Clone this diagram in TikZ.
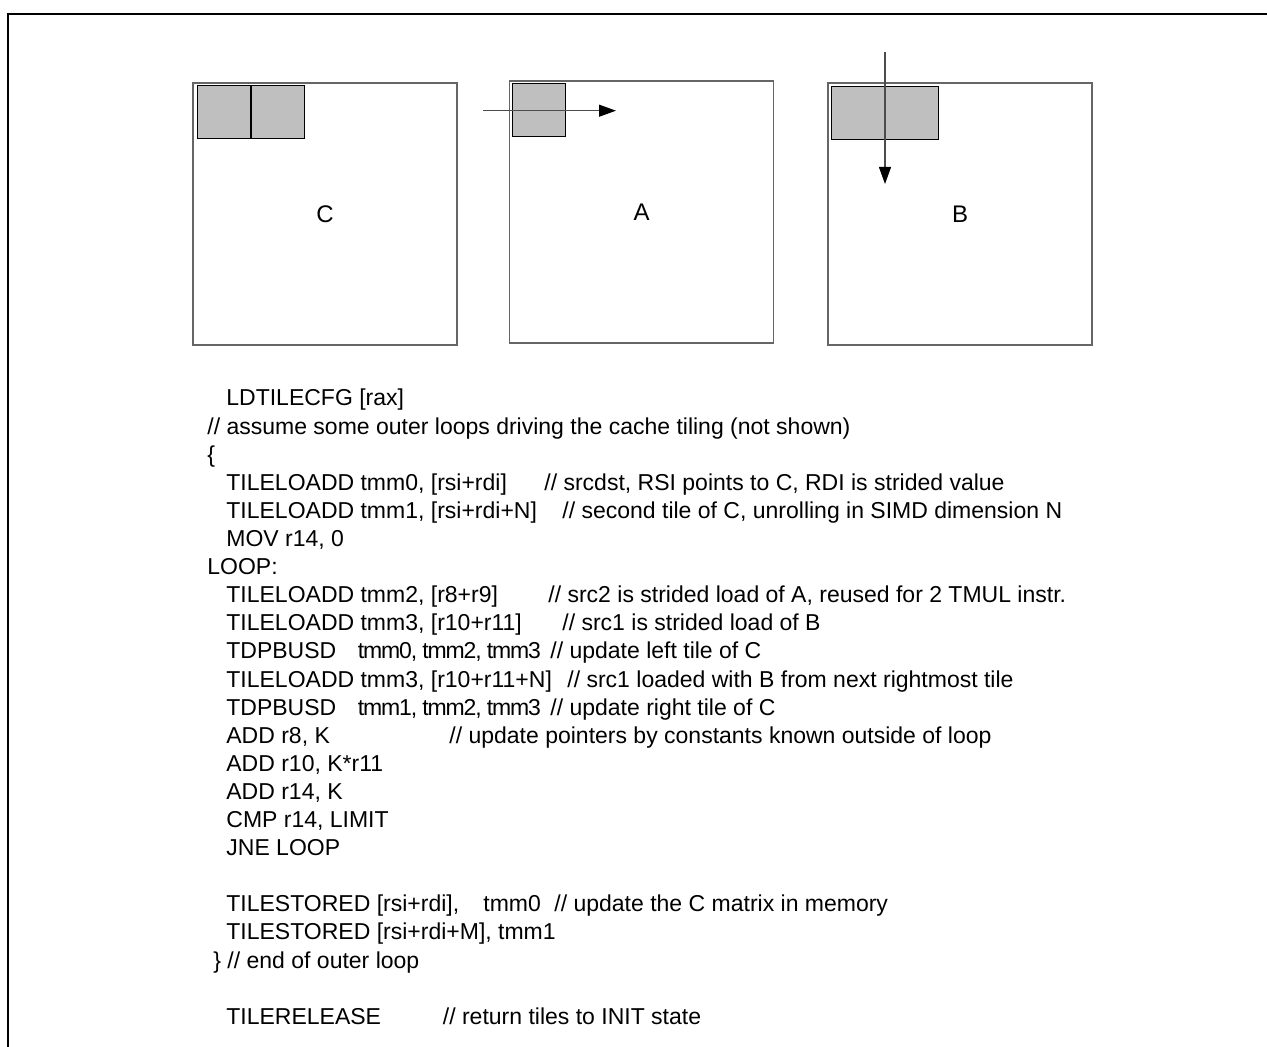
\documentclass[tikz,border=0pt]{standalone}
\usepackage{fontspec}
\setmainfont{Liberation Sans}
\usetikzlibrary{arrows.meta}

\begin{document}
\begin{tikzpicture}[
		x=0.5pt,
		y=-0.5pt,
		mbox/.style={draw=black!60, line width=0.6pt, inner sep=0pt, outer sep=0pt,
			minimum width=132pt, minimum height=131pt, font=\fontsize{12}{14}\selectfont},
		tile/.style={draw=black, fill=black!25, line width=0.5pt, inner sep=0pt, outer sep=0pt,
			minimum size=26.5pt},
		walk/.style={draw=black!70, line width=0.6pt, -{Triangle[length=8.5pt,width=6pt,black]}},
		code/.style={anchor=base west, inner sep=0pt, font=\fontsize{11.5}{13}\selectfont},
		tight/.style={code, font=\fontsize{11.5}{13}\selectfont\addfontfeature{LetterSpace=-5}}
	]
	\useasboundingbox (0,0) rectangle (1267,1047);
	\draw[line width=1pt] (1267,14) -- (8,14) -- (8,1047);

	\node[mbox] (C) at (325,214) {C};
	\node[mbox] (A) at (641.5,212) {A};
	\node[mbox] (B) at (960,214) {B};

	\node[tile] (c1) at (223.5,112.5) {};
	\node[tile] (c2) at (277.5,112.5) {};
	\node[tile] (a1) at (539,110.5) {};
	\node[tile] (b1) at (857.5,113) {};
	\node[tile] (b2) at (912,113) {};

	\coordinate (arow) at (483,110.7);
	\coordinate (aend) at (616,110.7);
	\coordinate (bcol) at (885,52);
	\coordinate (bend) at (885,184);
	\draw[walk] (arow) -- (aend);
	\draw[walk] (bcol) -- (bend);

	\node[code] (l0) at (226,406) {LDTILECFG [rax]};
	\node[code] (l1) at (207,434.1) {// assume some outer loops driving the cache tiling (not shown)};
	\node[code] (l2) at (207,462.2) {\{};
	\node[code] (l3) at (226,490.3) {TILELOADD tmm0, [rsi+rdi]};
	\node[code] (l3c) at (544,490.3) {// srcdst, RSI points to C, RDI is strided value};
	\node[code] (l4) at (226,518.4) {TILELOADD tmm1, [rsi+rdi+N]};
	\node[code] (l4c) at (562,518.4) {// second tile of C, unrolling in SIMD dimension N};
	\node[code] (l5) at (226,546.5) {MOV r14, 0};
	\node[code] (l6) at (207,574.6) {LOOP:};
	\node[code] (l7) at (226,602.7) {TILELOADD tmm2, [r8+r9]};
	\node[code] (l7c) at (548,602.7) {// src2 is strided load of A, reused for 2 TMUL instr.};
	\node[code] (l8) at (226,630.8) {TILELOADD tmm3, [r10+r11]};
	\node[code] (l8c) at (562,630.8) {// src1 is strided load of B};
	\node[code] (l9) at (226,658.9) {TDPBUSD};
	\node[tight] (l9a) at (357.5,658.9) {tmm0, tmm2, tmm3};
	\node[code] (l9c) at (550,658.9) {// update left tile of C};
	\node[code] (l10) at (226,687) {TILELOADD tmm3, [r10+r11+N]};
	\node[code] (l10c) at (567,687) {// src1 loaded with B from next rightmost tile};
	\node[code] (l11) at (226,715.1) {TDPBUSD};
	\node[tight] (l11a) at (357.5,715.1) {tmm1, tmm2, tmm3};
	\node[code] (l11c) at (550,715.1) {// update right tile of C};
	\node[code] (l12) at (226,743.2) {ADD r8, K};
	\node[code] (l12c) at (449,743.2) {// update pointers by constants known outside of loop};
	\node[code] (l13) at (226,771.3) {ADD r10, K*r11};
	\node[code] (l14) at (226,799.4) {ADD r14, K};
	\node[code] (l15) at (226,827.5) {CMP r14, LIMIT};
	\node[code] (l16) at (226,855.6) {JNE LOOP};
	\node[code] (l18) at (226,911.8) {TILESTORED [rsi+rdi],};
	\node[code] (l18a) at (483,911.8) {tmm0};
	\node[code] (l18c) at (554,911.8) {// update the C matrix in memory};
	\node[code] (l19) at (226,939.9) {TILESTORED [rsi+rdi+M], tmm1};
	\node[code] (l20) at (213,968) {\} // end of outer loop};
	\node[code] (l22) at (226,1024.2) {TILERELEASE};
	\node[code] (l22c) at (442.5,1024.2) {// return tiles to INIT state};
\end{tikzpicture}
\end{document}
